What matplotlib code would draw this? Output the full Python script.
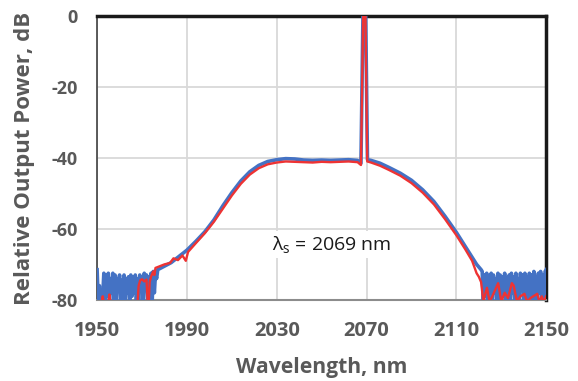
import numpy as np
import matplotlib
matplotlib.use("Agg")
import matplotlib.pyplot as plt

plt.rcParams['font.family'] = ['Open Sans', 'DejaVu Sans']
plt.rcParams['mathtext.fontset'] = 'custom'
plt.rcParams['mathtext.rm'] = 'Open Sans'
plt.rcParams['axes.unicode_minus'] = False

# ---- blue spectrum ----
# noise floor on the short-wavelength side (0.5 nm steps from 1950)
blue_noise_left = [-71.5, -80, -76, -81, -81, -79, -72.5, -81, -73, -79, -72.5, -81, -74, -78,
                   -72.5, -81, -73, -81, -74, -77, -73, -81, -74.5, -79, -73, -81, -74, -78,
                   -73.5, -81, -73, -79, -74, -78, -73, -81, -74, -81, -73, -77, -74, -81,
                   -72.5, -76, -73, -81, -73.5, -75, -72.5, -81, -72, -78, -72.5, -74]
blue_wl = [1977, 1980, 1983, 1986, 1990, 1994, 1998, 2002, 2006, 2010, 2014, 2018, 2022,
           2026, 2030, 2034, 2038, 2042, 2046, 2050, 2054, 2058, 2062, 2066, 2067.5,
           2068.4, 2069.6, 2070.4, 2072, 2076, 2080, 2085, 2090, 2095, 2100, 2105, 2110,
           2114, 2117, 2119, 2121]
blue_db = [-71.5, -70.5, -69.5, -68, -66, -63.5, -60.8, -57.5, -53.5, -49.8, -46.5, -43.9,
           -42.1, -41, -40.5, -40.2, -40.3, -40.6, -40.7, -40.6, -40.7, -40.6, -40.5, -40.7,
           -41.5, 0.5, 0.5, -40.5, -40.7, -41.5, -42.7, -44.3, -46.3, -49, -52.3, -56.5, -61,
           -65, -68, -70, -71.5]
# noise floor on the long-wavelength side (0.5 nm steps from 2121.5)
blue_noise_right = [-72, -81, -73, -79, -72.5, -81, -74, -77, -72.5, -81, -73, -78, -74, -81,
                    -72.5, -76, -73, -81, -73.5, -79, -72.5, -81, -74, -77, -73, -81, -72.5,
                    -78, -73.5, -81, -72.5, -79, -74, -81, -72.5, -76, -73, -81, -72.5, -78,
                    -73.5, -81, -72.5, -79, -73, -81, -72, -77, -73.5, -81, -72.5, -78, -72,
                    -81, -73, -79, -72, -71.5]

# ---- red spectrum ----
red_wl = [1950, 1952, 1952.5, 1953, 1955, 1955.5, 1956, 1968, 1968.5, 1969.2, 1970, 1971,
          1972, 1972.5, 1973, 1973.4, 1974, 1975, 1975.5, 1976, 1978, 1980, 1982.5, 1984,
          1986, 1988, 1989.5, 1990.5, 1994, 1998, 2002, 2006, 2010, 2014, 2018, 2022, 2026,
          2030, 2034, 2038, 2042, 2046, 2050, 2054, 2058, 2062, 2066, 2067.5, 2068.5, 2069.5,
          2070.3, 2072, 2076, 2080, 2085, 2090, 2095, 2100, 2105, 2110, 2114, 2117, 2119,
          2120, 2121, 2122]
red_db = [-81, -81, -79, -81, -81, -78.5, -81, -81, -76, -74.5, -74.2, -74.8, -74.3, -80.5,
          -81, -75, -73.5, -72, -73, -71, -70.5, -70, -69.6, -68.3, -68.8, -67.5, -69, -66.5,
          -64, -61.2, -58, -54.3, -50.6, -47.3, -44.7, -42.9, -41.8, -41.3, -41.0, -41.1,
          -41.2, -41.3, -41.1, -41.2, -41.1, -41.0, -41.2, -42, 0.5, 0.5, -41, -41.3, -42.2,
          -43.4, -45.0, -47.1, -49.8, -53.1, -57.3, -61.8, -65.8, -69, -72.5, -73.5, -75, -80.5]
red_noise_wl = [2123.6, 2124.8, 2126, 2128.6, 2130, 2131.5, 2133, 2134.7, 2135.5, 2137,
                2138.5, 2140.3, 2141.5, 2143, 2146, 2147, 2148, 2149, 2150]
red_noise_db = [-76.6, -80.5, -79, -75.3, -80.5, -78, -79.5, -75.3, -76, -80.5, -79, -78.3,
                -80.5, -79.5, -78.3, -80.5, -79, -80.5, -79]

x_ticks = [1950, 1990, 2030, 2070, 2110, 2150]
y_ticks = [0, -20, -40, -60, -80]

blue_x = np.concatenate([1950 + 0.5 * np.arange(len(blue_noise_left)), blue_wl,
                         2121.5 + 0.5 * np.arange(len(blue_noise_right))])
blue_y = np.concatenate([blue_noise_left, blue_db, blue_noise_right])
red_x = np.concatenate([red_wl, red_noise_wl])
red_y = np.concatenate([red_db, red_noise_db])

fig = plt.figure(figsize=(5.78, 3.81), dpi=100)
ax = fig.add_axes([0.168, 0.213, 0.777, 0.745])

ax.plot(blue_x, blue_y, color='#4472C4', lw=2.6, zorder=3)
ax.plot(red_x, red_y, color='#EE3333', lw=1.7, zorder=4)

ax.set_xlim(1950, 2150)
ax.set_ylim(-80, 0)
ax.set_xticks(x_ticks)
ax.set_yticks(y_ticks)
ax.grid(True, color='#D9D9D9', lw=1.3, zorder=0)
ax.set_axisbelow(True)
ax.tick_params(axis='x', length=0, labelsize=14.5, labelcolor='#595959', pad=15)
ax.tick_params(axis='y', length=0, labelsize=13, labelcolor='#595959', pad=14)
for lab in ax.get_xticklabels() + ax.get_yticklabels():
    lab.set_fontweight('bold')

fig.text(321.5 / 578, 1 - 368 / 381, 'Wavelength, nm', fontsize=15.2, fontweight='bold',
         color='#595959', ha='center', va='center')
fig.text(25 / 578, 1 - 158 / 381, 'Relative Output Power, dB', fontsize=16, fontweight='bold',
         color='#595959', ha='center', va='center', rotation=90)

for side in ['top', 'right']:
    ax.spines[side].set_color('#1a1a1a')
    ax.spines[side].set_linewidth(2.5)
ax.spines['left'].set_color('#404040')
ax.spines['left'].set_linewidth(1.2)
ax.spines['bottom'].set_color('#8c8c8c')
ax.spines['bottom'].set_linewidth(1.5)

ax.text(2054.5, -64.5, r'λ$_\mathrm{s}$ = 2069 nm', fontsize=14, color='#1a1a1a',
        ha='center', va='center', zorder=5,
        bbox=dict(facecolor='white', edgecolor='none', pad=2))

fig.savefig('out.png', dpi=100)
